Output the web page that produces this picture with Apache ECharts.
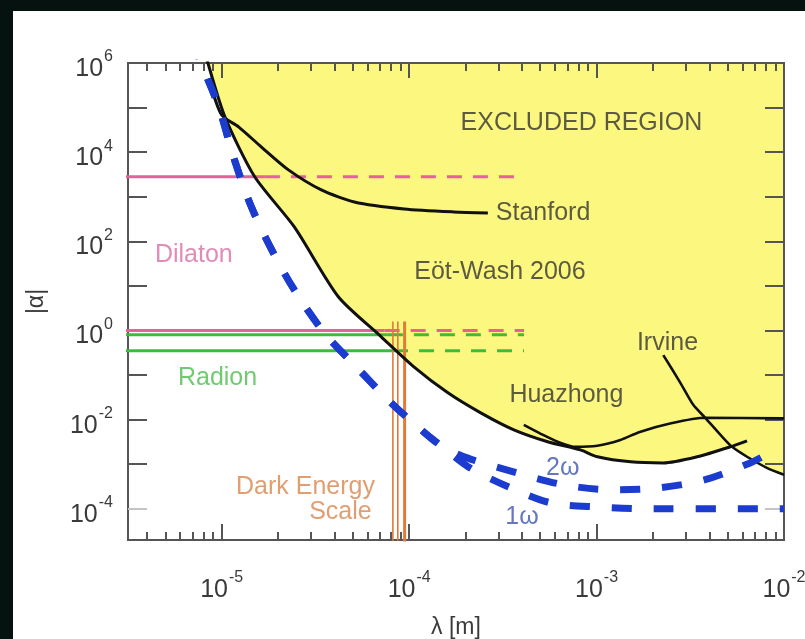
<!DOCTYPE html>
<html><head><meta charset="utf-8">
<script src="https://cdn.jsdelivr.net/npm/echarts@6/dist/echarts.min.js"></script>
<style>
html,body{margin:0;padding:0;width:805px;height:639px;overflow:hidden;background:#06120f;}
#c{position:absolute;left:13px;top:11px;width:792px;height:628px;background:#fff;}
</style>
</head><body><div id="c"></div>
<script>
// ---- tick labels (decade exponents of lambda [m] and |alpha|) ----
const xLabelExponents = [-5, -4, -3, -2];
const yLabelExponents = [-4, -2, 0, 2, 4, 6];
const yTickExponents = [-3, -2, -1, 0, 1, 2, 3, 4, 5, 6];
const yFaintTickExponents = [-4];

// ---- Eot-Wash 2006 limit ----
const eotWashLambda = [7.8e-6, 8.5e-6, 1.04e-5, 1.5e-5, 2.44e-5, 4.19e-5, 7.1e-5, 1.06e-4, 1.61e-4, 2.41e-4, 3.62e-4, 5.48e-4, 8.2e-4, 1.01e-3, 1.52e-3, 2.27e-3, 3.44e-3, 5.16e-3, 6.35e-3];
const eotWashAlpha  = [3.3e6, 9.0e5, 6.2e4, 2.8e3, 210, 5.7, 0.72, 0.153, 0.040, 0.0142, 5.9e-3, 3.2e-3, 2.1e-3, 1.47e-3, 1.13e-3, 1.07e-3, 1.47e-3, 2.45e-3, 3.35e-3];

// ---- Stanford ----
const stanfordLambda = [8.6e-6, 1.0e-5, 1.23e-5, 1.63e-5, 2.27e-5, 3.4e-5, 5.1e-5, 9.4e-5, 1.73e-4, 2.63e-4];
const stanfordAlpha  = [4.0e5, 6.8e4, 3.7e4, 1.3e4, 4.0e3, 1.42e3, 764, 532, 456, 433];

// ---- Irvine ----
const irvineLambda = [2.27e-3, 2.8e-3, 3.28e-3, 3.8e-3, 4.57e-3, 5.28e-3, 6.35e-3, 8.1e-3, 1.0e-2];
const irvineAlpha  = [0.28, 0.067, 0.0215, 0.011, 4.6e-3, 2.45e-3, 1.47e-3, 8.3e-4, 5.8e-4];

// ---- Huazhong ----
const huazhongLambda = [4.09e-4, 5.04e-4, 6.2e-4, 7.73e-4, 1.01e-3, 1.34e-3, 1.7e-3, 2.5e-3, 3.8e-3, 1.0e-2];
const huazhongAlpha  = [7.6e-3, 4.8e-3, 3.2e-3, 2.45e-3, 2.6e-3, 3.5e-3, 5.3e-3, 8.3e-3, 0.011, 0.0107];

// lambda where Irvine becomes the strongest limit
const irvineTakesOverLambda = 5.2e-3;

// ---- projected sensitivities (blue dashed) ----
const projSharedLambda = [6.92e-6, 7.83e-6, 9.64e-6, 1.17e-5, 1.44e-5, 1.85e-5, 2.44e-5, 3.53e-5, 5.1e-5, 8.0e-5, 1.16e-4, 1.48e-4];
const projSharedAlpha  = [3.3e6, 9.0e5, 1.03e5, 6.7e3, 590, 64, 8.1, 0.88, 0.17, 0.024, 5.9e-3, 2.6e-3];
const proj2wLambda = [2.04e-4, 3.75e-4, 6.67e-4, 1.19e-3, 2.14e-3, 3.8e-3, 6.6e-3, 8.2e-3];
const proj2wAlpha  = [1.39e-3, 6.4e-4, 3.45e-4, 2.67e-4, 2.95e-4, 4.5e-4, 1.07e-3, 1.71e-3];
const proj1wLambda = [2.07e-4, 3.28e-4, 5.69e-4, 1.03e-3, 1.87e-3, 1.0e-2];
const proj1wAlpha  = [8.7e-4, 3.3e-4, 1.36e-4, 1.1e-4, 1.0e-4, 1.0e-4];

// ---- Dilaton / Radion couplings ----
const dilatonAlpha = [2.8e3, 1.0];
const dilatonSolidEnd = [1.7e-5, 7.4e-5];
const radionAlpha = [0.8, 0.35];
const radionSolidEnd = [7.7e-5, 8.2e-5];
const couplingLambdaStart = 3.0e-6;
const couplingLambdaEnd = 4.1e-4;

// ---- Dark energy scale ----
const darkEnergyLambda = [8.19e-5, 8.7e-5, 9.46e-5];
const darkEnergyAlphaRange = [1.0e-5, 1.6];

// ---- annotations ----
const annotationTexts  = ['EXCLUDED REGION', 'Stanford', 'Eöt-Wash 2006', 'Dilaton', 'Radion', 'Dark Energy', 'Scale', 'Irvine', 'Huazhong', '2ω', '1ω'];
const annotationLambda = [8.3e-4, 2.9e-4, 3.05e-4, 7.1e-6, 9.5e-6, 2.8e-5, 4.3e-5, 2.39e-3, 6.9e-4, 6.6e-4, 4.0e-4];
const annotationAlpha  = [4.5e4, 434, 20.6, 49.5, 0.0865, 3.1e-4, 8.6e-5, 0.53, 0.036, 8.3e-4, 6.6e-5];

// ================= build =================
const L = Math.log10;
const pts = (lam, al) => lam.map((l, i) => [L(l), L(al[i])]);
const FONT = '"Liberation Sans", Arial, sans-serif';
const AXIS = '#555';
const TXT = '#3a3a3a';
const BLUE = '#1c3ccf';
const PINK = '#e2629a';
const GREEN = '#3dbb3d';
const ORANGE = '#e07a3a';

const X_MIN = -5.5, X_MAX = -2, Y_MIN = -4.7, Y_MAX = 6;

const xMajor = [-5, -4, -3, -2];
const xMinor = [];
for (let n = -6; n <= -3; n++) for (let k = 2; k <= 9; k++) {
  const v = n + L(k);
  if (v > X_MIN && v < X_MAX) xMinor.push(v);
}

const rich = {
  b: {fontSize: 25, fontFamily: FONT, color: TXT, lineHeight: 40},
  s: {fontSize: 16, fontFamily: FONT, color: TXT, verticalAlign: 'top', lineHeight: 16, padding: [0, 0, 0, 1]}
};
const powFmt = v => '{b|10}{s|' + Math.round(v) + '}';

function xAxisDef(pos, ticks, len, labels, extra) {
  return Object.assign({
    type: 'value', position: pos, min: X_MIN, max: X_MAX,
    axisLine: {show: true, onZero: false, lineStyle: {color: AXIS, width: 2}},
    axisTick: {show: true, inside: true, length: len, customValues: ticks, lineStyle: {color: AXIS, width: 2}},
    axisLabel: labels ? {show: true, customValues: xLabelExponents, formatter: powFmt, rich: rich, margin: 30} : {show: false},
    splitLine: {show: false}
  }, extra || {});
}
function yAxisDef(pos, labels, ticks, tickColor, extra) {
  return Object.assign({
    type: 'value', position: pos, min: Y_MIN, max: Y_MAX,
    axisLine: {show: true, onZero: false, lineStyle: {color: AXIS, width: 2}},
    axisTick: {show: true, inside: true, length: 19, customValues: ticks, lineStyle: {color: tickColor, width: 2}},
    axisLabel: labels ? {show: true, customValues: yLabelExponents, formatter: powFmt, rich: rich, margin: 15, padding: [12, 0, 0, 0]} : {show: false},
    splitLine: {show: false}
  }, extra || {});
}

// excluded region boundary = strongest limit
const excludedBoundary = pts(eotWashLambda, eotWashAlpha).filter(p => p[0] <= L(irvineTakesOverLambda))
  .concat(pts(irvineLambda, irvineAlpha).filter(p => p[0] > L(irvineTakesOverLambda)));

const series = [];
series.push({
  name: 'excluded', type: 'line', data: excludedBoundary, symbol: 'none', smooth: 0.25, z: -1,
  lineStyle: {width: 0, opacity: 0}, areaStyle: {color: '#fcf87f', opacity: 1, origin: 'end'}, silent: true
});

// couplings
function coupling(alpha, solidEnd, color) {
  series.push({type: 'line', symbol: 'none', silent: true, z: 3,
    data: [[L(couplingLambdaStart), L(alpha)], [L(solidEnd), L(alpha)]],
    lineStyle: {color: color, width: 3}});
  series.push({type: 'line', symbol: 'none', silent: true, z: 3,
    data: [[L(solidEnd), L(alpha)], [L(couplingLambdaEnd), L(alpha)]],
    lineStyle: {color: color, width: 3, type: [15, 11]}});
}
dilatonAlpha.forEach((a, i) => coupling(a, dilatonSolidEnd[i], PINK));
radionAlpha.forEach((a, i) => coupling(a, radionSolidEnd[i], GREEN));

// dark energy scale
darkEnergyLambda.forEach((l, i) => {
  series.push({type: 'line', symbol: 'none', silent: true, z: 4,
    data: [[L(l), L(darkEnergyAlphaRange[0])], [L(l), L(darkEnergyAlphaRange[1])]],
    lineStyle: {color: ORANGE, width: i === 2 ? 3 : 1.6}});
});

// experimental limits
const blackLine = (data, w) => ({type: 'line', data: data, symbol: 'none', smooth: 0.25, silent: true, z: 5,
  lineStyle: {color: '#111', width: w}});
series.push(blackLine(pts(eotWashLambda, eotWashAlpha), 3));
series.push(blackLine(pts(stanfordLambda, stanfordAlpha), 3));
series.push(blackLine(pts(irvineLambda, irvineAlpha), 2.6));
series.push(blackLine(pts(huazhongLambda, huazhongAlpha), 2.6));

// projections
const shared = pts(projSharedLambda, projSharedAlpha);
[[proj1wLambda, proj1wAlpha], [proj2wLambda, proj2wAlpha]].forEach(([lam, al]) => {
  series.push({type: 'line', data: shared.concat(pts(lam, al)), symbol: 'none', smooth: 0.3, silent: true, z: 6,
    lineStyle: {color: BLUE, width: 7, type: [20, 22], cap: 'butt'}});
});

// annotations
const annColors = ['#333', '#333', '#333', '#d96fa6', '#4cbd4c', '#d9864e', '#d9864e', '#333', '#333', '#3d55b0', '#3d55b0'];
series.push({
  type: 'scatter', symbolSize: 0, silent: true, z: 10,
  data: annotationTexts.map((t, i) => ({
    value: [L(annotationLambda[i]), L(annotationAlpha[i])],
    label: {show: true, position: 'inside', formatter: t, color: annColors[i], fontSize: 25, fontFamily: FONT,
      align: i === 1 ? 'left' : 'center', verticalAlign: 'middle'}
  }))
});

const chart = echarts.init(document.getElementById('c'), null, {renderer: 'canvas'});
chart.setOption({
  backgroundColor: '#ffffff',
  animation: false,
  grid: {left: 115, right: 21, top: 52, bottom: 99, containLabel: false, outerBoundsMode: 'none'},
  xAxis: [
    xAxisDef('bottom', xMajor, 16, true, {name: 'λ [m]', nameLocation: 'middle', nameGap: 76,
      nameTextStyle: {fontSize: 23, fontFamily: FONT, color: TXT}}),
    xAxisDef('bottom', xMinor, 8, false),
    xAxisDef('top', xMajor.slice(0, 3), 15, false),
    xAxisDef('top', xMinor, 8, false)
  ],
  yAxis: [
    yAxisDef('left', true, yTickExponents, AXIS, {name: '|α|', nameLocation: 'middle', nameGap: 80, nameRotate: 90,
      nameTextStyle: {fontSize: 23, fontFamily: FONT, color: TXT}}),
    yAxisDef('right', false, yTickExponents, AXIS),
    yAxisDef('left', false, yFaintTickExponents, '#c4c4c4'),
    yAxisDef('right', false, yFaintTickExponents, '#c4c4c4')
  ],
  series: series
});
</script>
</body></html>
